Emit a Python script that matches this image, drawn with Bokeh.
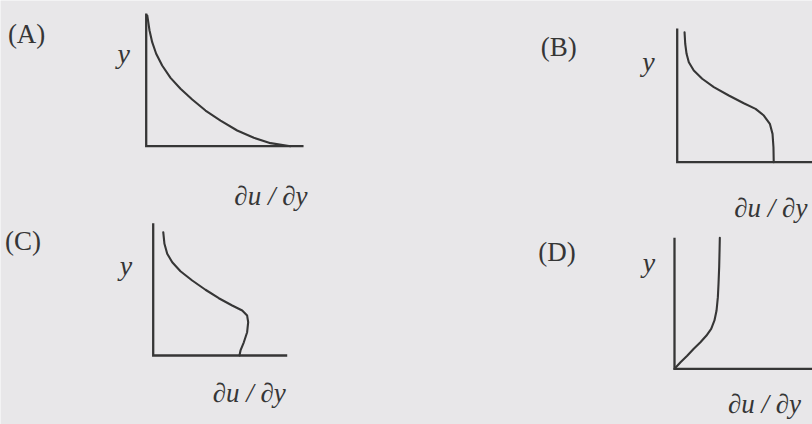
from bokeh.plotting import figure
from bokeh.models import Range1d
from bokeh.core.properties import value
from bokeh.embed import file_html
from bokeh.resources import INLINE

W, H = 812, 424
BG = "#e8e7e9"
INK = "#363636"
FONT = "Liberation Serif"

# Shear-rate profiles: height y (in units of the axis height) against du/dy
a_y = [0.983, 0.87, 0.782, 0.695, 0.607, 0.514, 0.432, 0.351, 0.268, 0.193, 0.118, 0.063, 0.023, 0.0]
a_dudy = [0.008, 0.025, 0.045, 0.075, 0.12, 0.183, 0.258, 0.346, 0.446, 0.559, 0.684, 0.809, 0.935, 1.085]

b_y = [0.972, 0.886, 0.811, 0.748, 0.686, 0.624, 0.561, 0.499, 0.441, 0.399, 0.349, 0.287, 0.212, 0.112, 0.0]
b_dudy = [0.055, 0.06, 0.07, 0.087, 0.124, 0.187, 0.274, 0.386, 0.498, 0.586, 0.648, 0.693, 0.713, 0.72, 0.722]

c_y = [0.932, 0.844, 0.769, 0.705, 0.637, 0.567, 0.497, 0.433, 0.378, 0.34, 0.302, 0.252, 0.176, 0.1, 0.038, 0.0]
c_dudy = [0.076, 0.085, 0.106, 0.144, 0.206, 0.295, 0.395, 0.496, 0.597, 0.673, 0.71, 0.718, 0.71, 0.685, 0.66, 0.652]

d_y = [0.0, 0.05, 0.10, 0.153, 0.203, 0.254, 0.305, 0.369, 0.445, 0.547, 0.649, 0.776, 0.903, 1.0]
d_dudy = [0.0, 0.046, 0.097, 0.147, 0.198, 0.244, 0.28, 0.305, 0.321, 0.331, 0.336, 0.341, 0.344, 0.346]

option_labels = ["(A)", "(B)", "(C)", "(D)"]
y_label = "y"
x_label = "\u2202u / \u2202y"

# Layout of each small panel: pixel origin, pixel size of one unit, axis extents
# and where the option letter and axis names sit (in panel units).
panels = [
    dict(key="a", ys=a_y, xs=a_dudy, origin=(145.7, 145.7), scale=133.0, ext=(1.183, 0.998),
         tag=(-1.04, 0.847), ylab=(-0.17, 0.70), xlab=(0.938, -0.371)),
    dict(key="b", ys=b_y, xs=b_dudy, origin=(676.7, 161.7), scale=133.7, ext=(1.10, 1.0),
         tag=(-1.02, 0.858), ylab=(-0.215, 0.753), xlab=(0.70, -0.346)),
    dict(key="c", ys=c_y, xs=c_dudy, origin=(152.7, 355.0), scale=132.3, ext=(1.013, 1.0),
         tag=(-1.12, 0.869), ylab=(-0.206, 0.68), xlab=(0.726, -0.287)),
    dict(key="d", ys=d_y, xs=d_dudy, origin=(674.0, 368.3), scale=131.0, ext=(1.10, 1.0),
         tag=(-1.04, 0.895), ylab=(-0.195, 0.811), xlab=(0.687, -0.272)),
]

p = figure(width=W, height=H, x_range=Range1d(0, W), y_range=Range1d(0, H),
           output_backend="svg", toolbar_location=None,
           x_axis_type=None, y_axis_type=None, min_border=0,
           background_fill_color=BG, border_fill_color=BG, outline_line_color=None)
p.xgrid.visible = False
p.ygrid.visible = False

for pan, tag in zip(panels, option_labels):
    k = pan["key"]
    ox, oy = pan["origin"]
    s = pan["scale"]
    # each panel gets its own scale that puts its origin at the right spot
    p.extra_x_ranges[k] = Range1d(-ox / s, (W - ox) / s)
    p.extra_y_ranges[k] = Range1d(-(H - oy) / s, oy / s)
    kw = dict(x_range_name=k, y_range_name=k)

    xe, ye = pan["ext"]
    p.line(x=[0, 0, xe], y=[ye, 0, 0], line_color=INK, line_width=2.3,
           line_join="miter", **kw)
    p.line(x=pan["xs"], y=pan["ys"], line_color=INK, line_width=2.1,
           line_join="round", line_cap="round", **kw)

    p.text(x=[pan["tag"][0]], y=[pan["tag"][1]], text=[tag],
           text_font=value(FONT), text_font_size="27px", text_color=INK,
           text_align="left", text_baseline="alphabetic", **kw)
    p.text(x=[pan["ylab"][0]], y=[pan["ylab"][1]], text=[y_label],
           text_font=value(FONT), text_font_size="28px", text_font_style="italic",
           text_color=INK, text_align="center", text_baseline="alphabetic", **kw)
    p.text(x=[pan["xlab"][0]], y=[pan["xlab"][1]], text=[x_label],
           text_font=value(FONT), text_font_size="27px", text_font_style="italic",
           text_color=INK, text_align="center", text_baseline="alphabetic", **kw)

open("out.html", "w").write(file_html(p, INLINE))
